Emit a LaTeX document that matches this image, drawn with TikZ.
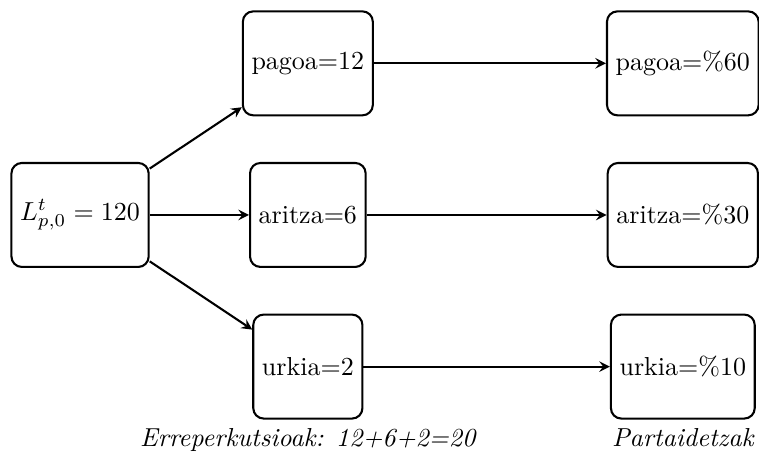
\documentclass[tikz,border=0pt]{standalone}
\usepackage{xcolor}
\usepackage{tikz}
\usetikzlibrary{shapes, arrows, positioning}
\usepackage{amsmath, amssymb}

\begin{document}
\begin{tikzpicture}[node distance=2.05cm, auto,
    box/.style={rectangle, draw, thick, rounded corners, minimum height=40pt, align=center},
    note/.style={font=\itshape, inner sep=3.33pt},
    line/.style={draw, thick, -stealth}]

    \useasboundingbox (-30.8pt,-91.2pt) rectangle (261.2pt,82.7pt);

    \node [box] (total) {$L^t_{p,0} = 120$};
    \node [box, right of=total, xshift=1.03cm] (aritza) {aritza=6};
    \node [box, above of=aritza] (pagoa) {pagoa=12};
    \node [box, below of=aritza] (urkia) {urkia=2};
    \node [box, right of=aritza, xshift=3.02cm] (aritzap) {aritza=\%30};
    \node [box, above of=aritzap] (pagoap) {pagoa=\%60};
    \node [box, below of=aritzap] (urkiap) {urkia=\%10};

    \node [note, below=0pt of urkia] (sum) {Erreperkutsioak: 12+6+2=20};
    \node [note, below=0pt of urkiap] (share) {Partaidetzak};

    \path [line] (total) -- (pagoa);
    \path [line] (total) -- (aritza);
    \path [line] (total) -- (urkia);
    \path [line] (pagoa) -- (pagoap);
    \path [line] (aritza) -- (aritzap);
    \path [line] (urkia) -- (urkiap);

\end{tikzpicture}
\end{document}
